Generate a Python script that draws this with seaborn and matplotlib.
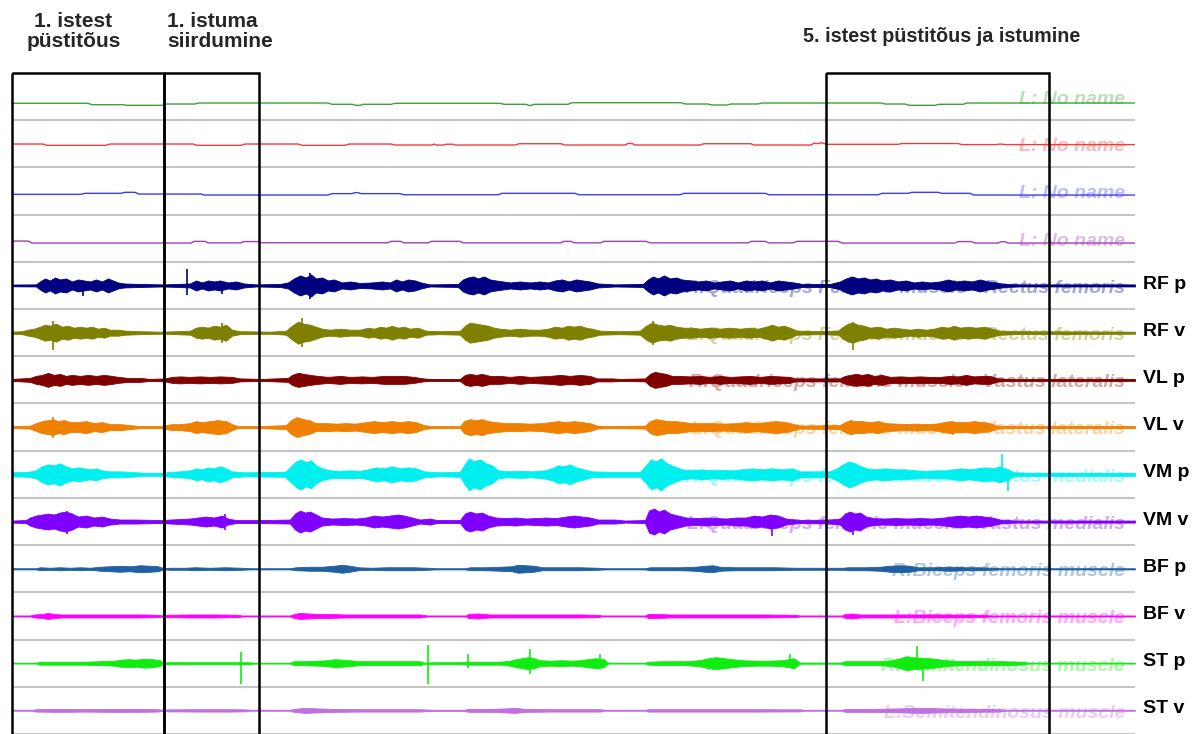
import numpy as np
import pandas as pd
import matplotlib.pyplot as plt
from matplotlib.patches import Rectangle
import seaborn as sns

# ---- channels, top to bottom ----
faint_names = ["L: No name", "L: No name", "L: No name", "L: No name",
               "R:Quadriceps Femoris muscle - Rectus femoris",
               "L:Quadriceps Femoris muscle - Rectus femoris",
               "R:Quadriceps femoris muscle - Vastus lateralis",
               "L:Quadriceps femoris muscle - Vastus lateralis",
               "R:Quadriceps femoris muscle - Vastus medialis",
               "L:Quadriceps femoris muscle - Vastus medialis",
               "R:Biceps femoris muscle", "L:Biceps femoris muscle",
               "R:Semitendinosus muscle", "L:Semitendinosus muscle"]
short_names = ["", "", "", "", "RF p", "RF v", "VL p", "VL v", "VM p", "VM v",
               "BF p", "BF v", "ST p", "ST v"]
colors = ["#3f9f3f", "#f03c3c", "#3c3cf0", "#a040b0", "#000080", "#808000",
          "#800000", "#f08000", "#00f0f0", "#8000ff", "#2060a0", "#ff00ff",
          "#10ec10", "#c070e0"]

# event boxes (start, end) in frames and their titles
box_spans = [(12, 164), (164, 259), (826, 1049)]
box_titles = ["1. istest\npüstitõus", "1. istuma\nsiirdumine",
              "5. istest püstitõus ja istumine"]

# ---- slow channels: (frame, level) ----
green_pts = [(12, -6.7), (88, -6.7), (92, -8.1), (123, -8.1), (127, -8.7), (163, -8.7),
             (166, -7.4), (195, -7.4), (199, -6.4), (328, -6.4), (332, -7.7), (352, -7.7),
             (356, -8.7), (360, -8.7), (363, -7.7), (391, -7.7), (395, -6.7), (500, -6.7),
             (504, -7.7), (526, -7.7), (530, -9.1), (534, -7.7), (568, -7.7), (572, -6.1),
             (681, -6.1), (685, -7.4), (708, -7.4), (712, -8.4), (727, -8.4), (731, -7.4),
             (758, -7.4), (762, -6.4), (881, -6.4), (885, -7.4), (905, -7.4), (909, -8.7),
             (935, -8.7), (939, -7.7), (963, -7.7), (967, -6.4), (1135, -6.4)]
red_pts = [(12, -0.2), (43, -0.2), (47, -1.5), (106, -1.5), (110, -0.2), (193, -0.2),
           (197, -1.5), (241, -1.5), (245, -0.2), (298, -0.2), (302, -1.5), (345, -1.5),
           (349, -0.2), (391, -0.2), (395, -1.2), (432, -1.2), (434, -0.2), (436, -1.2),
           (444, -1.2), (446, -0.4), (453, -0.4), (455, -1.2), (515, -1.2), (519, 0.1),
           (561, 0.1), (565, -1.2), (625, -1.2), (628, 0.4), (632, 0.4), (635, -1.2),
           (700, -1.2), (704, 0.1), (751, 0.1), (754, -1.2), (811, -1.2), (814, 0.6),
           (818, 0.2), (822, 1.1), (826, -0.5), (898, -0.5), (902, 0.3), (958, 0.3),
           (962, -0.8), (996, -0.8), (1000, -0.2), (1006, -0.8), (1135, -0.8)]
blue_pts = [(12, -3.3), (81, -3.3), (85, -2.3), (121, -2.3), (125, -1.3), (135, -1.3),
            (139, -3), (201, -3), (205, -4), (328, -4), (332, -2.6), (352, -2.6),
            (355, -1.6), (358, -1.6), (361, -2.6), (400, -2.6), (404, -3.7), (498, -3.7),
            (502, -2.3), (575, -2.3), (579, -3.7), (680, -3.7), (684, -2.3), (765, -2.3),
            (769, -3.7), (878, -3.7), (882, -2.3), (908, -2.3), (912, -1.3), (938, -1.3),
            (942, -2.3), (970, -2.3), (974, -4), (1135, -4)]
purple_pts = [(12, -2.8), (28, -2.8), (32, -4.8), (191, -4.8), (194, -3.1), (205, -3.1),
              (208, -4.6), (241, -4.6), (244, -3.3), (258, -3.3), (261, -4.5), (388, -4.5),
              (391, -3.1), (401, -3.1), (404, -4.6), (428, -4.6), (431, -3.1), (460, -3.1),
              (463, -4.6), (561, -4.6), (564, -3.1), (571, -3.1), (574, -4.6), (601, -4.6),
              (604, -3.1), (646, -3.1), (650, -4.6), (748, -4.6), (751, -3.1), (765, -3.1),
              (769, -4.6), (793, -4.6), (797, -3.1), (838, -3.1), (842, -4.8), (955, -4.8),
              (958, -3.3), (971, -3.3), (975, -4.8), (998, -4.8), (1001, -3.5), (1005, -3.5),
              (1008, -4.8), (1135, -4.8)]

# ---- EMG channels: amplitude envelope (frame, half-amplitude) ----
rfp_env = [(12, 0.8), (36, 1), (40, 4), (45, 7), (50, 5), (55, 8), (60, 6), (66, 7), (72, 4),
           (78, 6), (84, 5), (90, 4), (96, 6), (102, 4), (108, 7), (113, 5), (118, 3), (124, 2),
           (140, 1.5), (163, 1), (178, 1.5), (190, 2), (196, 5), (202, 3), (208, 5), (214, 4),
           (220, 5), (228, 3), (236, 4), (244, 2), (256, 1), (280, 1.5), (288, 3), (294, 7),
           (300, 10), (306, 8), (311, 11), (316, 7), (322, 8), (328, 5), (334, 6), (342, 3),
           (350, 4), (360, 2.5), (372, 3), (382, 4), (390, 3), (396, 6), (402, 4), (408, 6),
           (415, 5), (421, 3), (430, 1), (458, 1.5), (463, 6), (468, 8), (473, 9), (478, 7),
           (484, 9), (490, 6), (496, 5), (503, 4), (510, 3), (520, 4), (530, 3), (540, 4),
           (548, 3), (555, 5), (562, 6), (569, 4), (576, 6), (583, 5), (590, 4), (598, 2),
           (615, 1), (643, 1.5), (648, 6), (653, 9), (658, 7), (664, 10), (670, 7), (676, 8),
           (682, 6), (690, 5), (698, 4), (706, 5), (714, 3), (722, 4), (730, 5), (738, 3),
           (746, 5), (754, 4), (762, 5), (770, 3), (778, 5), (786, 4), (794, 3), (802, 1.5),
           (830, 1.5), (840, 4), (846, 7), (852, 9), (858, 7), (864, 8), (870, 6), (876, 7),
           (882, 5), (890, 6), (898, 4), (906, 5), (914, 3), (922, 4), (930, 3), (940, 4),
           (948, 6), (956, 4), (964, 5), (972, 4), (980, 6), (988, 4), (996, 3), (1004, 1.5),
           (1020, 1), (1135, 1)]
rfv_env = [(12, 1), (22, 1.5), (28, 3), (34, 4), (40, 6), (45, 8), (50, 7), (56, 9), (62, 6),
           (68, 7), (74, 5), (80, 6), (86, 5), (92, 6), (98, 4), (104, 5), (110, 3), (118, 3),
           (126, 2), (140, 1.5), (162, 1), (175, 1.5), (190, 2), (196, 5), (202, 6), (208, 5),
           (214, 7), (220, 6), (226, 8), (232, 3), (240, 1.5), (270, 1), (286, 2), (292, 7),
           (298, 11), (304, 9), (310, 8), (316, 6), (322, 4), (330, 3), (340, 4), (350, 3),
           (360, 3), (368, 5), (374, 4), (380, 6), (386, 5), (392, 7), (398, 5), (404, 6),
           (410, 4), (418, 5), (426, 2), (440, 1.5), (460, 2), (465, 7), (470, 10), (476, 9),
           (482, 8), (488, 7), (494, 5), (500, 4), (510, 3), (520, 4), (530, 3), (540, 3),
           (548, 4), (555, 6), (562, 5), (568, 7), (574, 6), (580, 7), (586, 5), (592, 4),
           (600, 2), (620, 1.5), (640, 2), (646, 7), (652, 10), (658, 8), (664, 7), (670, 8),
           (676, 6), (684, 5), (692, 5), (700, 4), (710, 5), (720, 4), (730, 5), (740, 4),
           (750, 5), (758, 4), (766, 6), (772, 8), (778, 6), (784, 7), (790, 5), (797, 2),
           (820, 1.5), (838, 2), (843, 6), (848, 9), (853, 10), (858, 8), (864, 7), (870, 5),
           (878, 6), (886, 4), (894, 5), (902, 4), (910, 3), (918, 4), (926, 3), (934, 4),
           (942, 6), (948, 5), (954, 7), (960, 5), (968, 6), (976, 5), (984, 6), (992, 4),
           (1000, 2), (1015, 1.5), (1135, 1)]
vlp_env = [(12, 1), (30, 2), (36, 4), (42, 5), (48, 7), (54, 5), (60, 6), (66, 4), (72, 5),
           (80, 4), (88, 5), (96, 4), (104, 5), (112, 4), (118, 3), (128, 2), (140, 2), (150, 1),
           (165, 1.5), (172, 3), (180, 3.5), (190, 3), (200, 3.5), (210, 3), (220, 3.5),
           (232, 3), (240, 1.5), (262, 1), (288, 2), (292, 5), (298, 7), (304, 6), (310, 5),
           (318, 4), (328, 3), (340, 4), (350, 3), (362, 3.5), (372, 3), (384, 4), (396, 4),
           (404, 4), (414, 3), (423, 1.5), (430, 1), (460, 1), (465, 5), (470, 6), (476, 5),
           (482, 6), (490, 4), (500, 4), (510, 3), (520, 4), (530, 3), (540, 3.5), (550, 4),
           (560, 5), (570, 4), (580, 5), (590, 4), (597, 1.5), (612, 1.5), (620, 1), (645, 1.5),
           (650, 6), (655, 8), (660, 7), (666, 6), (672, 4), (680, 4), (690, 3.5), (700, 4),
           (710, 3), (720, 4), (730, 3), (740, 3.5), (750, 4), (760, 3), (770, 4), (780, 3.5),
           (790, 3), (795, 1.5), (840, 1.5), (845, 4), (850, 5), (856, 6), (862, 5), (868, 6),
           (874, 4), (882, 5), (890, 3), (900, 3.5), (910, 3), (920, 3.5), (930, 3), (940, 3),
           (950, 4), (958, 3.5), (966, 5), (974, 3.5), (982, 4), (990, 4), (998, 1.5),
           (1010, 1), (1135, 1)]
vlv_env = [(12, 1), (30, 1.5), (36, 4), (42, 6), (48, 7), (53, 8), (58, 6), (64, 7), (70, 5),
           (78, 5), (86, 6), (94, 4), (102, 5), (110, 3), (120, 3), (130, 2), (140, 1), (160, 1),
           (166, 2), (172, 3), (180, 3), (190, 4), (196, 6), (202, 5), (210, 6), (218, 7),
           (226, 6), (232, 3), (238, 1), (260, 1), (286, 2), (291, 7), (297, 10), (303, 8),
           (309, 7), (316, 4), (326, 4), (336, 3.5), (346, 4), (356, 3.5), (366, 5), (374, 6),
           (382, 5), (392, 6), (400, 5), (408, 6), (416, 5), (424, 2), (432, 1), (460, 1),
           (464, 6), (470, 8), (476, 7), (482, 8), (488, 6), (496, 5), (506, 4), (518, 4),
           (530, 3.5), (542, 4), (550, 5), (558, 6), (566, 5), (574, 6), (582, 5), (590, 4),
           (597, 1.5), (610, 1), (645, 1.5), (650, 6), (656, 8), (662, 7), (668, 6), (676, 6),
           (684, 5), (692, 4), (700, 4), (712, 4), (724, 3.5), (736, 4), (746, 5), (756, 4),
           (766, 5), (776, 6), (786, 5), (794, 3), (800, 1.5), (840, 2), (845, 5), (850, 7),
           (856, 6), (862, 6), (870, 5), (878, 6), (886, 4), (896, 3.5), (906, 3), (916, 3.5),
           (926, 3), (936, 3.5), (944, 5), (950, 6), (958, 5), (966, 5), (974, 6), (982, 5),
           (990, 4), (997, 1.5), (1010, 1), (1135, 1)]
vmp_env = [(12, 2), (28, 2.5), (36, 4), (42, 8), (48, 10), (54, 9), (60, 11), (66, 8), (72, 6),
           (78, 7), (84, 6), (90, 5), (96, 6), (102, 4), (110, 3), (120, 3), (130, 2.5),
           (145, 1.5), (163, 1.5), (170, 2.5), (180, 3), (190, 4), (196, 6), (202, 5), (208, 7),
           (214, 6), (220, 8), (226, 6), (232, 3), (245, 2), (285, 2.5), (291, 8), (296, 13),
           (301, 15), (306, 12), (311, 14), (316, 9), (322, 6), (330, 4), (340, 3.5), (350, 4),
           (360, 3.5), (368, 5), (376, 7), (384, 6), (392, 8), (400, 6), (408, 7), (416, 6),
           (424, 3), (440, 2), (460, 2.5), (464, 9), (469, 16), (474, 13), (480, 15), (486, 11),
           (492, 9), (498, 4), (508, 3), (520, 3.5), (532, 3), (544, 4), (552, 6), (558, 9),
           (564, 8), (570, 10), (576, 7), (584, 5), (592, 3), (610, 2.5), (640, 2.5), (646, 9),
           (651, 15), (656, 13), (661, 16), (667, 11), (674, 8), (682, 5), (692, 4), (702, 5),
           (712, 4), (722, 4.5), (732, 4), (742, 5), (752, 6), (762, 5), (772, 6), (782, 5),
           (792, 6), (800, 3), (830, 3), (837, 6), (843, 10), (849, 13), (855, 11), (861, 8),
           (867, 6), (875, 5), (885, 6), (895, 5), (905, 5), (915, 4), (925, 3.5), (935, 4),
           (945, 4), (953, 5), (961, 6), (969, 5), (977, 6), (985, 7), (993, 6), (1000, 8),
           (1008, 5), (1014, 2), (1030, 1.5), (1135, 1.5)]
vmv_env = [(12, 1), (26, 1.5), (30, 4), (36, 6), (42, 7), (48, 8), (54, 7), (60, 9), (66, 10),
           (72, 8), (78, 5), (86, 6), (94, 4), (102, 5), (110, 3), (120, 2), (135, 2), (160, 1.5),
           (170, 2), (180, 2.5), (190, 3), (198, 4), (206, 5), (214, 4), (222, 6), (228, 3),
           (236, 1.5), (262, 1.5), (290, 2), (295, 8), (300, 11), (305, 9), (310, 10), (316, 7),
           (322, 4), (332, 3), (344, 3.5), (356, 3), (366, 4), (374, 6), (382, 5), (390, 6),
           (398, 7), (404, 6), (412, 4), (420, 2), (430, 3), (437, 1.5), (460, 1.5), (465, 8),
           (470, 10), (476, 8), (482, 9), (488, 6), (496, 4), (506, 3.5), (516, 4), (526, 3),
           (536, 3.5), (546, 4), (556, 3.5), (566, 5), (574, 6), (582, 5), (590, 4), (598, 2),
           (615, 2), (625, 1), (645, 1.5), (649, 11), (654, 13), (659, 10), (664, 12), (670, 8),
           (678, 6), (686, 4), (696, 3.5), (706, 4), (716, 3.5), (726, 3), (736, 4), (746, 4),
           (754, 6), (762, 5), (770, 7), (778, 6), (786, 3), (800, 1.5), (830, 2), (840, 3),
           (845, 8), (850, 10), (855, 8), (860, 9), (866, 5), (874, 3.5), (884, 3), (896, 3.5),
           (908, 3), (920, 3.5), (932, 3), (944, 4), (952, 5), (960, 6), (968, 5), (976, 6),
           (984, 5), (992, 4), (1000, 2), (1015, 1), (1135, 1)]
bfp_env = [(12, 0.5), (36, 0.5), (40, 1.5), (50, 1), (60, 1.5), (70, 1), (80, 1.5), (90, 1),
           (100, 2), (110, 2.5), (120, 3), (130, 2.5), (140, 3.5), (150, 3), (158, 2.5),
           (164, 0.5), (170, 1), (185, 1), (195, 1.5), (210, 1), (225, 1.5), (242, 1), (250, 0.5),
           (290, 0.5), (296, 1.5), (310, 2), (322, 2), (334, 3), (342, 4), (350, 3), (358, 1.5),
           (372, 1), (386, 1.5), (400, 1.5), (414, 1.5), (428, 1), (436, 0.5), (465, 0.5),
           (470, 1.5), (485, 1.5), (500, 2), (512, 2.5), (518, 4), (526, 3.5), (534, 3),
           (542, 1.5), (560, 1.5), (580, 1.5), (598, 1), (605, 0.5), (645, 0.5), (650, 1.5),
           (665, 1.5), (680, 1.5), (695, 2), (705, 3), (713, 3.5), (720, 2), (735, 1.5),
           (755, 1.5), (775, 1.5), (795, 1), (843, 1), (848, 1.5), (865, 1.5), (880, 2), (890, 3),
           (900, 3.5), (910, 3), (918, 1.5), (935, 1.5), (950, 2), (965, 1.5), (980, 1.5),
           (990, 1), (1000, 0.5), (1135, 0.5)]
bfv_env = [(12, 0.4), (30, 0.4), (34, 1.5), (42, 2), (48, 3), (54, 2), (62, 1.5), (80, 1.5),
           (100, 1.5), (120, 1.5), (140, 1.5), (157, 1.2), (163, 0.4), (166, 1.2), (190, 1.5),
           (215, 1.5), (238, 1.2), (242, 0.4), (290, 0.4), (294, 2), (300, 3), (308, 2.5),
           (318, 2), (330, 2), (345, 1.5), (370, 1.5), (395, 1.5), (420, 1.5), (428, 0.4),
           (466, 0.4), (468, 2), (478, 2.5), (490, 1.5), (520, 1.5), (550, 1.5), (580, 1.5),
           (598, 1.2), (602, 0.4), (645, 0.4), (648, 2), (658, 2), (670, 1.5), (700, 1.5),
           (730, 1.5), (760, 1.5), (795, 1.2), (800, 0.4), (842, 0.4), (845, 2), (852, 2.5),
           (860, 1.5), (900, 1.5), (940, 1.5), (985, 1.2), (990, 0.4), (1135, 0.4)]
stp_env = [(12, 0.3), (36, 0.3), (40, 1.5), (55, 1.5), (70, 1.5), (85, 1.5), (100, 2),
           (115, 2.5), (120, 3.5), (128, 4), (136, 3.5), (144, 4.5), (152, 4), (160, 3),
           (163, 0.5), (168, 1), (190, 1), (215, 1), (235, 1), (247, 1), (255, 0.3), (290, 0.3),
           (294, 2), (305, 2), (318, 2.5), (328, 3), (335, 4), (342, 3.5), (350, 3), (358, 2),
           (375, 2), (395, 2), (410, 2), (420, 2), (424, 0.5), (435, 1), (460, 1), (470, 1.5),
           (485, 1.5), (500, 1.5), (510, 2.5), (516, 4), (522, 5), (528, 6), (534, 5), (540, 3),
           (550, 2.5), (562, 3), (572, 2.5), (580, 3), (588, 4), (596, 5), (604, 4), (608, 0.3),
           (645, 0.3), (648, 1.5), (665, 2), (685, 2), (700, 3), (708, 5), (716, 6), (724, 5),
           (732, 4), (742, 3), (756, 2.5), (770, 2.5), (782, 3), (788, 4), (794, 5), (800, 0.5),
           (840, 0.5), (845, 2), (860, 2), (880, 2), (892, 3), (900, 5), (907, 7), (912, 6),
           (930, 5), (938, 4), (946, 3), (960, 2), (980, 2), (1000, 2), (1020, 1.5), (1030, 0.3),
           (1135, 0.3)]
stv_env = [(12, 0.3), (32, 0.3), (36, 1.2), (60, 1.5), (85, 1.2), (110, 1.5), (135, 1.5),
           (158, 1.2), (163, 0.3), (168, 1), (200, 1.2), (230, 1.2), (245, 1), (250, 0.3),
           (290, 0.3), (293, 1.5), (305, 2.5), (318, 2), (333, 1.5), (360, 1.2), (390, 1.2),
           (420, 1.2), (430, 0.5), (465, 0.5), (468, 1.5), (490, 1.5), (505, 2), (515, 2.5),
           (525, 1.5), (550, 1.2), (575, 1.2), (600, 1.2), (605, 0.3), (645, 0.3), (648, 1.2),
           (680, 1.2), (720, 1.2), (760, 1.2), (800, 1), (805, 0.3), (842, 0.3), (845, 1.5),
           (870, 1.5), (900, 2), (920, 2.5), (940, 2), (970, 1.5), (1000, 1.2), (1005, 0.3),
           (1135, 0.3)]

# single large spikes: (frame, up, down)
rfp_spikes = [(83, 3, 11), (187, 16, 10), (222, 3, 9), (310, 12, 14)]
rfv_spikes = [(53, 12, 17), (222, 10, 10), (302, 15, 14), (653, 12, 12), (853, 11, 17)]
vlv_spikes = [(53, 10, 11), (953, 3, 8)]
vmp_spikes = [(1002, 20, 6), (1008, 4, 17)]
vmv_spikes = [(67, 11, 12), (225, 8, 8), (772, 4, 14), (853, 5, 13)]
stp_spikes = [(241, 11, 21), (428, 18, 21), (468, 9, 5), (530, 14, 11), (600, 9, 6),
              (790, 9, 3), (917, 17, 4), (923, 4, 18)]

slow = [green_pts, red_pts, blue_pts, purple_pts]
emg = [rfp_env, rfv_env, vlp_env, vlv_env, vmp_env, vmv_env, bfp_env, bfv_env, stp_env, stv_env]
spikes = [rfp_spikes, rfv_spikes, [], vlv_spikes, vmp_spikes, vmv_spikes, [], [], stp_spikes, []]

gain = 1 / 47.2   # one row of the display per 47.2 units

sns.set_theme(style="white")
plt.rcParams['font.family'] = ['Liberation Sans', 'DejaVu Sans']

fig = plt.figure(figsize=(12.02, 7.34), dpi=100)
ax = fig.add_axes([12 / 1202, 0, 1123 / 1202, 661 / 734])
ax.set_xlim(12, 1135)
ax.set_ylim(14, 0)

# row separators
ax.set_yticks(np.arange(1, 15))
ax.set_xticks([])
ax.yaxis.grid(True, color="#c4c4c4", lw=1.5)
ax.tick_params(left=False, labelleft=False)
for s in ax.spines.values():
    s.set_visible(False)

# slow channels
for i, pts in enumerate(slow):
    df = pd.DataFrame(pts, columns=["t", "v"])
    df["y"] = i + 0.5 - df["v"] * gain
    sns.lineplot(data=df, x="t", y="y", ax=ax, color=colors[i], lw=1.0,
                 estimator=None, sort=False, zorder=3)

# EMG channels
for k, env in enumerate(emg):
    row = k + 4
    c = row + 0.5
    df = pd.DataFrame(env, columns=["t", "a"])
    ax.fill_between(df["t"], c - df["a"] * gain, c + df["a"] * gain,
                    color=colors[row], lw=0.6, zorder=3)
    base = pd.DataFrame({"t": [12, 1135], "y": [c, c]})
    sns.lineplot(data=base, x="t", y="y", ax=ax, color=colors[row], lw=1.0,
                 estimator=None, zorder=3)
    for t, up, dn in spikes[k]:
        ax.vlines(t, c - up * gain, c + dn * gain, color=colors[row], lw=1.2, zorder=3)

ax.set_xlabel("")
ax.set_ylabel("")

# faint channel names and short labels
for i in range(14):
    ax.text(1125, i + 0.56, faint_names[i], ha="right", va="center", fontsize=14,
            style="italic", weight="bold", color=colors[i], alpha=0.35, zorder=5)
    if short_names[i]:
        ax.text(1143, i + 0.47, short_names[i], ha="left", va="center", fontsize=14,
                weight="bold", color="black", clip_on=False)

# event boxes
for x0, x1 in box_spans:
    ax.add_patch(Rectangle((x0, 0), x1 - x0, 14.6, fill=False, ec="black", lw=1.8,
                           clip_on=False, zorder=6))

fig.text(73.5 / 1202, 1 - 12 / 734, box_titles[0], ha="center", va="top", fontsize=15,
         weight="bold", linespacing=1.08, multialignment="center")
fig.text(167 / 1202, 1 - 12 / 734, box_titles[1], ha="left", va="top", fontsize=15,
         weight="bold", linespacing=1.08)
fig.text(803 / 1202, 1 - 37 / 734, box_titles[2], ha="left", va="center", fontsize=14.2,
         weight="bold")

fig.savefig("out.png", dpi=100, facecolor="white")
